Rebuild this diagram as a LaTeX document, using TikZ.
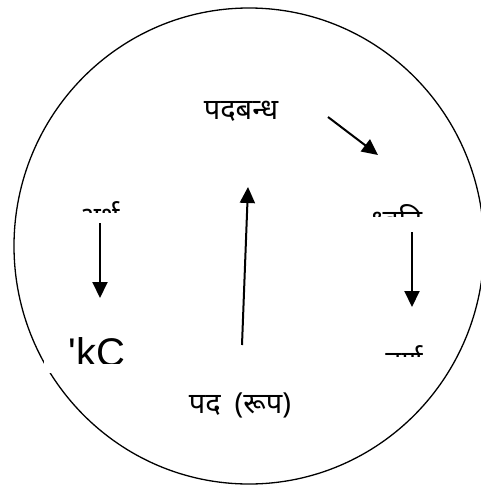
\documentclass[tikz,border=0pt]{standalone}
\usepackage{fontspec}
\newfontfamily\deva[Script=Devanagari]{Noto Sans}
\newfontfamily\latin{Liberation Sans}
\usetikzlibrary{arrows.meta}
\begin{document}
\begin{tikzpicture}[x=1pt,y=-1pt,
  lbl/.style={font=\deva\fontsize{29}{32}\selectfont, inner sep=0pt},
  arr/.style={line width=2pt, -{Triangle[length=16pt,width=15pt]}}]
\useasboundingbox (0,0) rectangle (481,485);
\draw[line width=1.3pt] (249,246) ellipse [x radius=235, y radius=238];
% labels
\node[lbl, anchor=base] (padbandh) at (241,119) {पदबन्ध};
\node[lbl, anchor=base] (pad) at (240,413) {पद\hspace{14pt}(रूप)};
\begin{scope}
  \clip (60,190) rectangle (140,212);
  \node[lbl, anchor=base] (arth) at (99,227) {अर्थ};
\end{scope}
\begin{scope}
  \clip (355,195) rectangle (440,216);
  \node[lbl, anchor=base] (dhvani) at (397,230) {ध्वनि};
\end{scope}
\begin{scope}
  \clip (370,335) rectangle (440,356);
  \node[lbl, anchor=base] (varn) at (404,371) {वर्ण};
\end{scope}
\fill[white] (44,328) rectangle (135,373);
\begin{scope}
  \clip (44,328) rectangle (135,363);
  \node[font=\latin\fontsize{40}{44}\selectfont, inner sep=0pt, anchor=base] (shabd) at (97,366) {'kC};
\end{scope}
% arrows
\coordinate (a1s) at (328,117); \coordinate (a1e) at (378,155);
\coordinate (a2s) at (242,345); \coordinate (a2e) at (248,187);
\coordinate (a3s) at (100,223); \coordinate (a3e) at (100,298);
\coordinate (a4s) at (412,232); \coordinate (a4e) at (412,307);
\draw[arr] (a1s) -- (a1e);
\draw[arr] (a2s) -- (a2e);
\draw[arr] (a3s) -- (a3e);
\draw[arr] (a4s) -- (a4e);
\end{tikzpicture}
\end{document}
